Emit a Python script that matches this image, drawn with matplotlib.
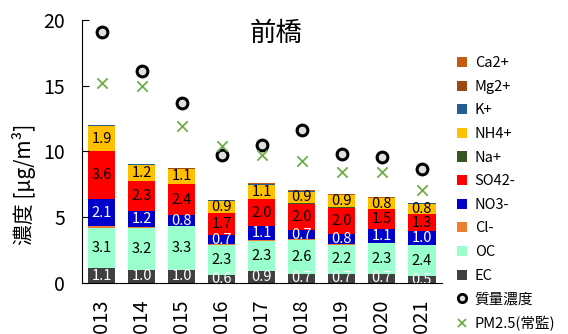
import matplotlib
matplotlib.use("Agg")
import matplotlib.pyplot as plt
from matplotlib.patches import Patch
from matplotlib.lines import Line2D
import numpy as np

plt.rcParams["font.family"] = ["Noto Sans CJK JP", "DejaVu Sans"]

years = ["2013", "2014", "2015", "2016", "2017", "2018", "2019", "2020", "2021"]

# stacked components, bottom to top
ec = [1.1, 1.0, 1.0, 0.6, 0.9, 0.7, 0.7, 0.7, 0.5]
oc = [3.1, 3.2, 3.3, 2.3, 2.3, 2.6, 2.2, 2.3, 2.4]
cl = [0.10, 0.05, 0.03, 0.03, 0.05, 0.03, 0.03, 0.02, 0.02]
no3 = [2.1, 1.2, 0.8, 0.7, 1.1, 0.7, 0.8, 1.1, 1.0]
so4 = [3.6, 2.3, 2.4, 1.7, 2.0, 2.0, 2.0, 1.5, 1.3]
na = [0.02, 0.02, 0.02, 0.02, 0.02, 0.02, 0.02, 0.02, 0.02]
nh4 = [1.9, 1.2, 1.1, 0.9, 1.1, 0.9, 0.9, 0.8, 0.8]
k = [0.08, 0.06, 0.05, 0.05, 0.06, 0.05, 0.05, 0.04, 0.04]
mg = [0.01, 0.01, 0.01, 0.01, 0.01, 0.01, 0.01, 0.01, 0.01]
ca = [0.04, 0.03, 0.03, 0.03, 0.03, 0.03, 0.03, 0.02, 0.02]

mass = [19.1, 16.1, 13.7, 9.7, 10.5, 11.6, 9.8, 9.6, 8.7]
pm25 = [15.2, 15.0, 11.9, 10.4, 9.7, 9.3, 8.4, 8.4, 7.1]

components = [
    ("EC", ec, "#404040", "white"),
    ("OC", oc, "#99FFCC", "black"),
    ("Cl-", cl, "#ED7D31", None),
    ("NO3-", no3, "#0000CC", "white"),
    ("SO42-", so4, "#FF0000", "black"),
    ("Na+", na, "#375623", None),
    ("NH4+", nh4, "#FFC000", "black"),
    ("K+", k, "#255E91", None),
    ("Mg2+", mg, "#9E480E", None),
    ("Ca2+", ca, "#C55A11", None),
]

fig = plt.figure(figsize=(5.68, 3.34), dpi=100)
ax = fig.add_axes([0.144, 0.153, 0.634, 0.787])

x = np.arange(len(years))
bottom = np.zeros(len(years))
for name, vals, color, tcolor in components:
    vals = np.asarray(vals)
    ax.bar(x, vals, 0.68, bottom=bottom, color=color, label=name)
    if tcolor:
        for xi, b, v in zip(x, bottom, vals):
            ax.text(xi, b + v / 2, f"{v:.1f}", ha="center", va="center",
                    fontsize=10.5, color=tcolor, clip_on=True)
    bottom = bottom + vals

ax.scatter(x, mass, s=60, facecolor="#E0E0E0", edgecolor="black", linewidth=2.2, zorder=5)
ax.scatter(x, pm25, s=55, marker="x", color="#70AD47", linewidth=1.3, zorder=5)

ax.set_xlim(-0.5, len(years) - 0.5)
ax.set_ylim(0, 20)
ax.set_yticks([0, 5, 10, 15, 20])
ax.set_xticks(x)
ax.set_xticklabels(years, rotation=90)
ax.tick_params(axis="y", direction="in", length=5, labelsize=14, pad=12)
ax.tick_params(axis="x", length=0, labelsize=14.5, pad=12)
ax.spines["top"].set_visible(False)
ax.spines["right"].set_visible(False)
ax.set_ylabel("濃度 [μg/m³]", fontsize=15)
ax.yaxis.set_label_coords(-0.128, 0.376)
ax.text(0.54, 0.95, "前橋", transform=ax.transAxes, ha="center", va="center", fontsize=19)

handles = []
for name, vals, color, tcolor in components[::-1]:
    handles.append(Patch(facecolor=color, label=name))
handles.append(Line2D([], [], marker="o", linestyle="none", markerfacecolor="#E0E0E0",
                      markeredgecolor="black", markeredgewidth=2, markersize=6, label="質量濃度"))
handles.append(Line2D([], [], marker="x", linestyle="none", color="#70AD47",
                      markeredgewidth=1.3, markersize=6, label="PM2.5(常監)"))
fig.legend(handles=handles, loc="upper left", bbox_to_anchor=(0.805, 0.832), frameon=False,
           fontsize=10.5, handlelength=0.7, handleheight=0.7, handletextpad=0.5,
           labelspacing=0.66, borderaxespad=0, borderpad=0)

fig.savefig("out.png", dpi=100)
